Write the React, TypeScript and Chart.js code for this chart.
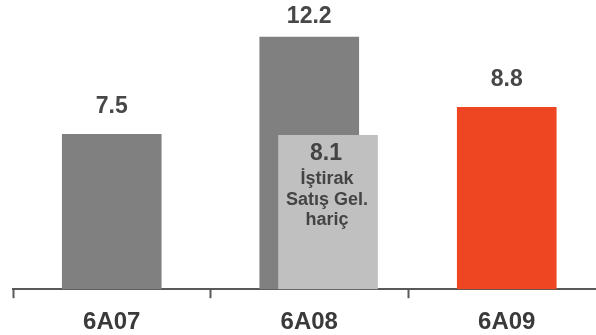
import { useEffect, useRef } from 'react';
import { Chart, registerables } from 'chart.js';

Chart.register(...registerables);

const categories = ['6A07', '6A08', '6A09'];
const mainValues = [7.5, 12.2, 8.8];
const mainColors = ['#808080', '#808080', '#EE4623'];
const adjustedIndex = 1;
const adjustedValues = [7.45];
const adjustedLabels = ['8.1'];
const adjustedNote = ['İştirak', 'Satış Gel.', 'hariç'];
const yMax = 14;

const FONT = '"Liberation Sans", Arial, sans-serif';
const ADJ_SHIFT = 0.111;

const labelPlugin = {
  id: 'valueLabels',
  afterDatasetsDraw(chart: any) {
    const ctx = chart.ctx;
    ctx.save();
    ctx.textAlign = 'center';
    ctx.textBaseline = 'middle';
    ctx.fillStyle = '#474747';
    ctx.font = `bold 23px ${FONT}`;
    const m0 = chart.getDatasetMeta(0);
    m0.data.forEach((el: any, i: number) => {
      const y = Math.max(el.y - 28, 16.5);
      ctx.fillText(mainValues[i].toFixed(1), el.x, y);
    });
    const m1 = chart.getDatasetMeta(1);
    m1.data.forEach((el: any, i: number) => {
      ctx.fillStyle = '#444444';
      ctx.font = `bold 23px ${FONT}`;
      ctx.fillText(adjustedLabels[i], el.x - 2, el.y + 18);
      ctx.font = `bold 18px ${FONT}`;
      adjustedNote.forEach((line, k) => {
        ctx.fillText(line, el.x - 1, el.y + 44 + k * 20.5);
      });
    });
    ctx.restore();
  },
};

export default function App() {
  const ref = useRef<HTMLCanvasElement | null>(null);
  useEffect(() => {
    if (!ref.current) return;
    const chart = new Chart(ref.current, {
      type: 'bar',
      data: {
        labels: categories,
        datasets: [
          {
            data: mainValues,
            backgroundColor: mainColors,
            barThickness: 99,
            grouped: false,
            xAxisID: 'x',
            order: 1,
          },
          {
            data: adjustedValues.map((v) => ({ x: adjustedIndex + ADJ_SHIFT, y: v })),
            backgroundColor: '#C0C0C0',
            barThickness: 99,
            grouped: false,
            xAxisID: 'x2',
            order: 0,
          } as any,
        ],
      },
      options: {
        animation: false,
        responsive: true,
        maintainAspectRatio: false,
        layout: { padding: { left: 13, right: 6.5, top: 0, bottom: 2 } },
        plugins: { legend: { display: false }, tooltip: { enabled: false } },
        scales: {
          x: {
            type: 'category',
            offset: true,
            grid: {
              display: true,
              drawOnChartArea: false,
              offset: true,
              tickLength: 9,
              color: '#595959',
              tickWidth: 2,
            },
            border: { display: true, color: '#595959', width: 2 },
            ticks: {
              color: '#3a3a3a',
              padding: 10,
              font: { family: FONT, size: 24, weight: 'bold' },
            },
          },
          x2: {
            type: 'linear',
            display: false,
            min: -0.5,
            max: 2.5,
            position: 'bottom',
          },
          y: {
            display: false,
            min: 0,
            max: yMax,
          },
        },
      },
      plugins: [labelPlugin],
    });
    return () => chart.destroy();
  }, []);
  return (
    <div style={{ position: 'fixed', left: 0, top: 0, width: 612, height: 349 }}>
      <canvas ref={ref} />
    </div>
  );
}
